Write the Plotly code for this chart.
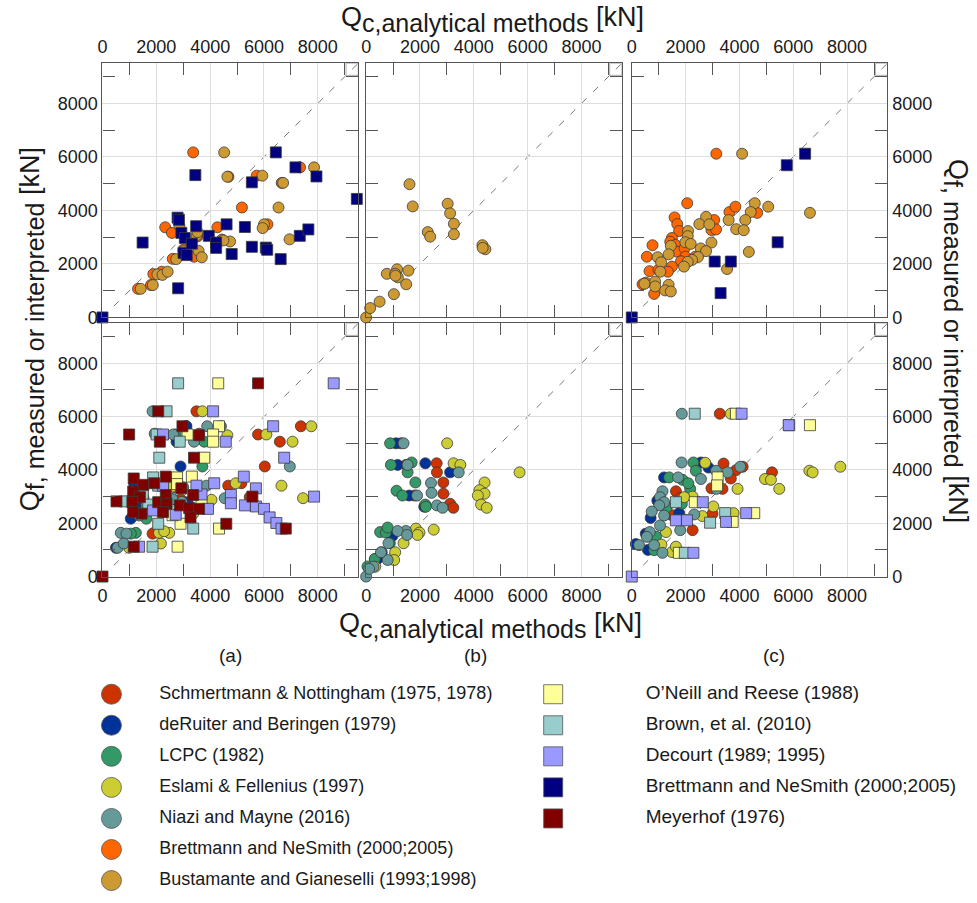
import plotly.graph_objects as go

# ---------------------------------------------------------------------------
# Axis setup shared by the six panels [kN]
QMAX = 9500
GRID_STEP = 2000
MINOR_STEP = 1000

# ---------------------------------------------------------------------------
# Methods: circles = CPT based, squares = other
CIRCLE_NAMES = [
    "Schmertmann & Nottingham (1975, 1978)",
    "deRuiter and Beringen (1979)",
    "LCPC (1982)",
    "Eslami & Fellenius (1997)",
    "Niazi and Mayne (2016)",
    "Brettmann and NeSmith (2000;2005)",
    "Bustamante and Gianeselli (1993;1998)",
]
CIRCLE_COLORS = ["#CC3300", "#003399", "#339966", "#CCCC33", "#669999", "#FF6600", "#CC9933"]

SQUARE_NAMES = [
    "O\u2019Neill and Reese (1988)",
    "Brown, et al. (2010)",
    "Decourt (1989; 1995)",
    "Brettmann and NeSmith (2000;2005)",
    "Meyerhof (1976)",
]
SQUARE_COLORS = ["#FFFF99", "#99CCCC", "#9999FF", "#000080", "#800000"]

PANEL_LABELS = ["(a)", "(b)", "(c)"]

# ---------------------------------------------------------------------------
# (Qc analytical, Qf measured/interpreted) pairs [kN]
# top row, panel (a)
A1_BRETT_C = [(3370, 6170), (2330, 3370), (2580, 3160), (3010, 2540), (3400, 2270), (2610, 2190),
              (4270, 3370), (4440, 2910), (5180, 4110), (5730, 5300), (6130, 3480), (6660, 5030),
              (7340, 5610), (4680, 5260), (1890, 1620), (2200, 1710), (1320, 1070), (1800, 1210),
              (3530, 3030)]
A1_BUST = [(4520, 6170), (4640, 5260), (5940, 5300), (6710, 5030), (7860, 5610), (6540, 4110),
           (6000, 3480), (5950, 3340), (6950, 2920), (4740, 2840), (4490, 2880), (3500, 3070),
           (3530, 3190), (3570, 2490), (3690, 2250), (2860, 3420), (2740, 2180), (3010, 2480),
           (2040, 1610), (2230, 1590), (2420, 1710), (1870, 1210), (1420, 1070)]
A1_BRETT_S = [(0, 0), (1490, 2800), (2810, 1090), (2790, 3730), (2840, 3650), (2930, 3160),
              (3060, 2970), (3010, 2410), (3130, 2330), (3320, 2760), (3480, 3410), (3450, 5320),
              (3950, 3050), (4220, 2800), (4220, 2600), (4610, 3480), (4800, 2370), (5290, 3380),
              (5550, 5050), (5550, 2640), (6070, 2610), (6120, 2530), (6440, 6170), (6620, 2180),
              (7170, 5610), (7330, 3050), (7650, 3290), (7950, 5270), (9450, 4430)]

# top row, panel (b)
B1_BUST = [(0, 0), (150, 350), (500, 590), (1030, 870), (1490, 1240), (770, 1630), (1150, 1800),
           (1080, 1630), (1180, 1500), (1090, 1560), (1570, 1750), (1610, 4980), (1730, 4150),
           (2290, 3190), (2380, 3020), (3030, 4250), (3120, 3890), (3260, 3500), (3260, 3110),
           (4320, 2700), (4430, 2550), (4330, 2600)]

# top row, panel (c)
C1_BRETT_C = [(3140, 6120), (2060, 4270), (1590, 3740), (1690, 3490), (1760, 3230), (1490, 2970),
              (1430, 2830), (1620, 2710), (1680, 2460), (1960, 2580), (1990, 2270), (1830, 2100),
              (1490, 1900), (1340, 1710), (770, 2700), (560, 2270), (660, 1730), (990, 1780),
              (400, 1240), (520, 1300), (830, 880), (3060, 3640), (2960, 3270), (3130, 3290),
              (3630, 3940), (3850, 4140), (4660, 3910), (2360, 2270)]
C1_BUST = [(4100, 6120), (4570, 4270), (4420, 3940), (5070, 4140), (6620, 3910), (4220, 3640),
           (3880, 3300), (4160, 3260), (3600, 3640), (2760, 3760), (2510, 3490), (2880, 3480),
           (2090, 3230), (2080, 3040), (1990, 2810), (2190, 2750), (2960, 2800), (2560, 2580),
           (2760, 2480), (2460, 2260), (2240, 2150), (2080, 2080), (1940, 1900), (1450, 2680),
           (1370, 2360), (960, 2250), (1090, 2060), (1060, 1710), (4350, 2450), (3540, 1810),
           (870, 1340), (470, 1260), (870, 1160), (1370, 1220), (1240, 1010), (1450, 970)]
C1_BRETT_S = [(0, 0), (3080, 2090), (3680, 2090), (3300, 910), (5420, 2810), (5760, 5690), (6440, 6120)]

# bottom row, panel (a)
A2_SCHM = [(3490, 6200), (7370, 5640), (5780, 5330), (6590, 5060), (6030, 4130), (4670, 3410),
           (5160, 3500), (5470, 2980), (1860, 1610), (3590, 5360), (3100, 5640), (2700, 3350),
           (2900, 2900)]
A2_DERU = [(2900, 4130), (2750, 5060), (500, 1080), (1050, 2170), (1180, 3470), (1240, 2690),
           (3120, 5640), (3160, 2790), (1520, 2950)]
A2_LCPC = [(3710, 4130), (3780, 5060), (4400, 5640), (1240, 1640), (1050, 1610), (2720, 5330),
           (1630, 2170), (3000, 3350), (2250, 2420), (2600, 2900)]
A2_ESLA = [(7760, 5640), (3710, 6200), (6090, 5330), (7060, 5060), (4640, 5300), (6650, 3410),
           (7450, 2940), (4950, 3500), (4050, 2880), (2590, 3370), (2170, 1240), (2100, 1640),
           (2480, 1640), (2290, 1700), (990, 1080), (3370, 2360), (3500, 3100)]
A2_NIAZ = [(1860, 6200), (1940, 5360), (2630, 5330), (3890, 5640), (3400, 5060), (6960, 4130),
           (4540, 2940), (3860, 3410), (680, 1640), (890, 1610), (560, 1080), (790, 1240),
           (1630, 2690), (1360, 2290), (2600, 2900), (2950, 2800), (1000, 2850)]
A2_ONEI = [(4300, 7250), (4330, 5640), (4110, 5330), (4110, 5060), (3780, 4460), (3160, 5330),
           (2770, 3720), (3320, 3750), (2770, 3470), (2900, 1980), (2790, 1120), (4330, 1800),
           (3680, 2790), (2600, 2300)]
A2_BROW = [(2810, 7250), (2380, 6200), (2010, 5330), (2870, 5060), (2110, 4460), (3370, 1800),
           (1860, 1120), (830, 2820), (1880, 3720), (2070, 3410), (2070, 1980), (1500, 3100),
           (1700, 2700)]
A2_DECO = [(8590, 7250), (4110, 6200), (6340, 5640), (4580, 5060), (2250, 5330), (6750, 4460),
           (5250, 3750), (5700, 3310), (4770, 3060), (4770, 2750), (5290, 2670), (5700, 2630),
           (6000, 2540), (6210, 2220), (6460, 2010), (6650, 1800), (7860, 3000), (4150, 3500),
           (3920, 2540), (3680, 3080), (3490, 3410), (2250, 3410), (2720, 2320), (1360, 1120),
           (1880, 2480)]
A2_MEYE = [(0, 0), (5780, 7250), (2070, 6200), (990, 5330), (2130, 5060), (2970, 5640), (3590, 5300),
           (3400, 4460), (1160, 3680), (1510, 3440), (1920, 3500), (2350, 3750), (2930, 3310),
           (1140, 3190), (1390, 2980), (1110, 2790), (520, 2820), (2070, 2790), (2350, 3060),
           (2380, 2730), (2870, 2670), (3220, 2570), (3370, 3060), (3590, 2540), (3270, 2220),
           (2250, 2420), (1450, 2360), (1140, 2420), (4600, 1980), (5570, 3000), (6810, 1800),
           (1160, 1120)]

# bottom row, panel (b)
B2_SCHM = [(1290, 5000), (1480, 4190), (2620, 4250), (2630, 3910), (2870, 3530), (2870, 3110),
           (3120, 2730), (3240, 2580), (1800, 3040), (340, 660)]
B2_DERU = [(1110, 5000), (1170, 4190), (2200, 4250), (3120, 3910), (1600, 3040), (2160, 2620),
           (980, 1530), (580, 910), (420, 660)]
B2_LCPC = [(890, 5000), (920, 4190), (1690, 4280), (1540, 3910), (1830, 3530), (1130, 3220),
           (1350, 3040), (2200, 2700), (2220, 2620), (520, 1670), (730, 1650), (800, 1840),
           (50, 380), (320, 660), (880, 1250)]
B2_ESLA = [(3010, 5000), (3250, 4250), (3500, 4190), (5700, 3910), (4400, 3530), (4210, 3240),
           (4400, 3110), (4150, 3040), (4270, 2700), (4480, 2580), (1850, 1800), (1980, 1650),
           (1910, 1560), (2510, 1760), (1390, 1250), (1080, 910), (1040, 620), (340, 370)]
B2_NIAZ = [(0, 0), (1390, 5000), (1540, 4190), (3440, 3910), (2410, 3510), (2430, 3140),
           (2630, 2670), (2840, 2580), (1890, 3040), (1480, 1710), (1170, 1710), (1520, 1560),
           (830, 1250), (800, 620), (550, 910), (270, 370), (110, 290)]

# bottom row, panel (c)
C2_SCHM = [(3270, 6110), (3410, 4240), (5210, 3910), (4120, 4120), (3870, 3990), (3680, 3680),
           (3370, 3290), (2960, 3310), (3000, 2360), (2260, 1740), (1640, 3200), (1800, 2950),
           (1500, 2300)]
C2_DERU = [(2570, 4280), (2850, 4090), (1200, 3720), (950, 2850), (520, 1610), (150, 1220),
           (1760, 2380), (700, 2200), (600, 1000)]
C2_LCPC = [(2290, 4280), (2380, 3970), (2170, 3290), (1890, 3630), (1390, 3720), (830, 990),
           (1860, 2730), (1300, 2600), (900, 1500), (2100, 3500)]
C2_ESLA = [(3680, 6110), (2730, 4270), (6600, 3970), (6720, 3910), (7750, 4120), (4950, 3660),
           (5170, 3630), (5480, 3290), (3930, 3290), (3780, 2380), (3030, 2630), (2620, 2270),
           (1970, 2130), (2260, 3000), (1950, 2980), (1270, 1670), (1490, 920), (1640, 1120),
           (1100, 1200)]
C2_NIAZ = [(1860, 6110), (1850, 4280), (3130, 3970), (3560, 3910), (4030, 4120), (2570, 3660),
           (1720, 3720), (1140, 3200), (1050, 2980), (1200, 2790), (1020, 2670), (740, 2440),
           (1050, 1920), (670, 1670), (1800, 1740), (830, 1180), (1140, 890), (270, 1180),
           (560, 1490), (1200, 2290), (2320, 2330), (3150, 3290)]
C2_ONEI = [(3870, 6110), (6620, 5680), (2340, 2790), (3750, 2050), (4550, 2380), (3190, 3720),
           (3170, 3420), (1750, 890)]
C2_BROW = [(2340, 6110), (1640, 2790), (2910, 2020), (3470, 2380), (1970, 890), (5850, 5680)]
C2_DECO = [(0, 0), (4080, 6110), (5830, 5680), (2640, 2790), (2050, 2110), (1640, 2110),
           (3500, 2050), (4250, 2380), (2290, 890)]

# panel number -> list of (kind, method index, data); drawing order = list order
PANELS = {
    1: [("c", 5, A1_BRETT_C), ("c", 6, A1_BUST), ("s", 3, A1_BRETT_S)],
    2: [("c", 6, B1_BUST)],
    3: [("c", 5, C1_BRETT_C), ("c", 6, C1_BUST), ("s", 3, C1_BRETT_S)],
    4: [("c", 0, A2_SCHM), ("c", 1, A2_DERU), ("c", 2, A2_LCPC), ("c", 3, A2_ESLA),
        ("c", 4, A2_NIAZ), ("s", 0, A2_ONEI), ("s", 1, A2_BROW), ("s", 2, A2_DECO),
        ("s", 4, A2_MEYE)],
    5: [("c", 0, B2_SCHM), ("c", 1, B2_DERU), ("c", 2, B2_LCPC), ("c", 3, B2_ESLA),
        ("c", 4, B2_NIAZ)],
    6: [("c", 0, C2_SCHM), ("c", 1, C2_DERU), ("c", 2, C2_LCPC), ("c", 3, C2_ESLA),
        ("c", 4, C2_NIAZ), ("s", 0, C2_ONEI), ("s", 1, C2_BROW), ("s", 2, C2_DECO)],
}

# ---------------------------------------------------------------------------
# Page geometry (pixels of a 977 x 903 page)
W, H = 977, 903
COL_PX = [(98, 355), (363, 620), (630, 887)]
ROW_PX = [(64, 321), (327, 583)]
LABEL_X = [227, 473, 773]
FONT = "Liberation Sans, Arial, sans-serif"
INK = "#1a1a1a"


def px_x(p):
    return p / W


def px_y(p):
    return 1 - p / H


fig = go.Figure()
layout = {}

for n in range(1, 7):
    row, col = (n - 1) // 3, (n - 1) % 3
    xa = "xaxis" if n == 1 else f"xaxis{n}"
    ya = "yaxis" if n == 1 else f"yaxis{n}"
    common = dict(
        range=[0, QMAX], tick0=0, dtick=GRID_STEP, showgrid=True, gridcolor="#dedede",
        gridwidth=1, zeroline=False, ticks="", showline=True, linecolor="#555555",
        linewidth=1.2, mirror="allticks",
        minor=dict(dtick=MINOR_STEP, tick0=0, ticks="inside", ticklen=12, tickcolor="#555555",
                   tickwidth=1, showgrid=False),
        tickfont=dict(family=FONT, size=18, color=INK), fixedrange=True,
    )
    layout[xa] = dict(common, domain=[px_x(COL_PX[col][0]), px_x(COL_PX[col][1])],
                      anchor=f"y{n}" if n > 1 else "y",
                      side="top" if row == 0 else "bottom",
                      ticklabelstandoff=2 if row == 0 else 3)
    layout[ya] = dict(common, domain=[px_y(ROW_PX[row][1]), px_y(ROW_PX[row][0])],
                      anchor=f"x{n}" if n > 1 else "x",
                      side="right" if col == 2 else "left",
                      showticklabels=(col != 1))

    xref = "x" if n == 1 else f"x{n}"
    yref = "y" if n == 1 else f"y{n}"
    # 1:1 reference line and its end box
    fig.add_shape(type="line", x0=0, y0=0, x1=QMAX, y1=QMAX, xref=xref, yref=yref,
                  line=dict(color="#777777", width=1, dash="7px,9px"), layer="below")
    fig.add_shape(type="rect", x0=QMAX - 450, y0=QMAX - 450, x1=QMAX, y1=QMAX, xref=xref,
                  yref=yref, line=dict(color="#999999", width=0.8), layer="below")

    for kind, idx, pts in PANELS[n]:
        color = CIRCLE_COLORS[idx] if kind == "c" else SQUARE_COLORS[idx]
        name = CIRCLE_NAMES[idx] if kind == "c" else SQUARE_NAMES[idx]
        fig.add_trace(go.Scatter(
            x=[p[0] for p in pts], y=[p[1] for p in pts], mode="markers", name=name,
            xaxis=xref, yaxis=yref, showlegend=False, cliponaxis=False,
            marker=dict(symbol="circle" if kind == "c" else "square", size=11, color=color,
                        line=dict(color="#3a3a3a", width=0.8)),
        ))

# ---------------------------------------------------------------------------
# Key drawn in its own pixel-scaled frame below the panels
KEY_TOP = 632
layout["xaxis7"] = dict(domain=[0, 1], range=[0, W], visible=False, fixedrange=True, anchor="y7")
layout["yaxis7"] = dict(domain=[0, px_y(KEY_TOP)], range=[H, KEY_TOP], visible=False,
                        fixedrange=True, anchor="x7")
KEY_Y0, KEY_DY = 702, 31.4
KEY_CIRCLE_X, KEY_CIRCLE_TX = 107, 155
KEY_SQUARE_X, KEY_SQUARE_TX = 551, 644

circle_rows = [KEY_Y0 + i * KEY_DY for i in range(len(CIRCLE_NAMES))]
square_rows = [KEY_Y0 + i * KEY_DY for i in range(len(SQUARE_NAMES))]
fig.add_trace(go.Scatter(
    x=[KEY_CIRCLE_X] * len(CIRCLE_NAMES), y=circle_rows, mode="markers", xaxis="x7",
    yaxis="y7", showlegend=False, cliponaxis=False,
    marker=dict(symbol="circle", size=20, color=CIRCLE_COLORS, line=dict(color="#555555", width=0.8))))
fig.add_trace(go.Scatter(
    x=[KEY_CIRCLE_TX] * len(CIRCLE_NAMES), y=circle_rows, mode="text", text=CIRCLE_NAMES,
    textposition="middle right", xaxis="x7", yaxis="y7", showlegend=False, cliponaxis=False,
    textfont=dict(family=FONT, size=18, color=INK)))
fig.add_trace(go.Scatter(
    x=[KEY_SQUARE_X] * len(SQUARE_NAMES), y=square_rows, mode="markers", xaxis="x7",
    yaxis="y7", showlegend=False, cliponaxis=False,
    marker=dict(symbol="square", size=19, color=SQUARE_COLORS, line=dict(color="#555555", width=0.8))))
fig.add_trace(go.Scatter(
    x=[KEY_SQUARE_TX] * len(SQUARE_NAMES), y=square_rows, mode="text", text=SQUARE_NAMES,
    textposition="middle right", xaxis="x7", yaxis="y7", showlegend=False, cliponaxis=False,
    textfont=dict(family=FONT, size=19, color=INK)))

# ---------------------------------------------------------------------------
# Axis titles and panel labels
XTITLE = "Q<sub><span style='font-size:25px'>c,analytical methods</span></sub> [kN]"
YTITLE = "Q<sub><span style='font-size:25px'>f, measured or interpreted</span></sub> [kN]"
title_font = dict(family=FONT, size=27, color=INK)
annotations = [
    dict(text=XTITLE, x=px_x(490), y=px_y(20), xref="paper", yref="paper", showarrow=False,
         xanchor="center", yanchor="middle", font=title_font),
    dict(text=XTITLE, x=px_x(488), y=px_y(632), xref="paper", yref="paper", showarrow=False,
         xanchor="center", yanchor="middle", font=title_font),
    dict(text=YTITLE, x=px_x(27), y=px_y(333), xref="paper", yref="paper", showarrow=False,
         xanchor="center", yanchor="middle", textangle=-90, font=title_font),
    dict(text=YTITLE, x=px_x(956), y=px_y(345), xref="paper", yref="paper", showarrow=False,
         xanchor="center", yanchor="middle", textangle=90, font=title_font),
]
for label, lx in zip(PANEL_LABELS, LABEL_X):
    annotations.append(dict(text=label, x=px_x(lx), y=px_y(663), xref="paper",
                            yref="paper", showarrow=False, xanchor="center", yanchor="middle",
                            font=dict(family=FONT, size=19, color=INK)))

fig.update_layout(
    width=W, height=H, margin=dict(l=0, r=0, t=0, b=0), paper_bgcolor="white",
    plot_bgcolor="white", showlegend=False, annotations=annotations, **layout,
)

fig.write_html("out.html")
